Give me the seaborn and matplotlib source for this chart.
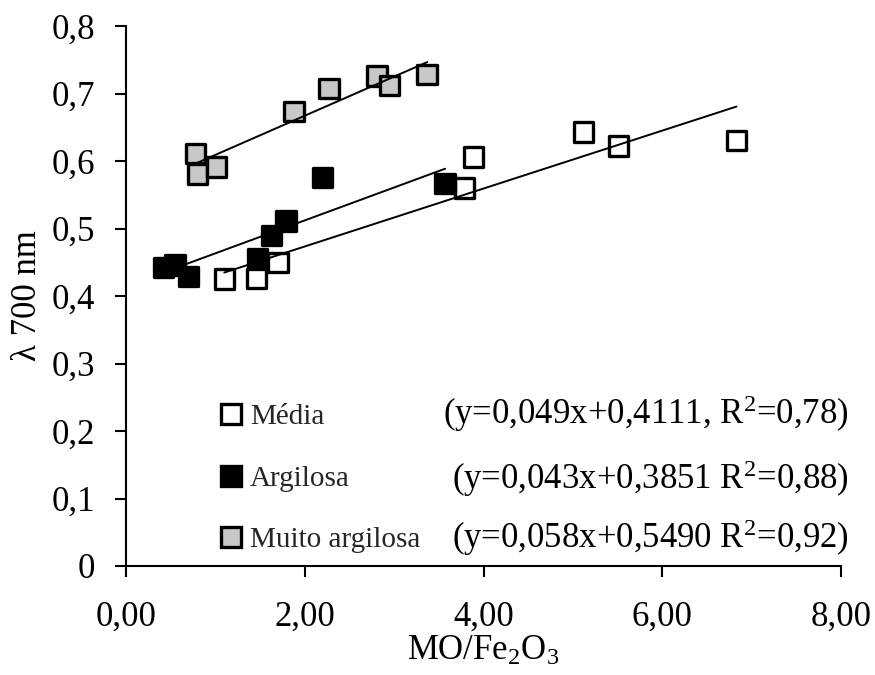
import numpy as np
import pandas as pd
import matplotlib
matplotlib.use("Agg")
import matplotlib.pyplot as plt
from matplotlib.lines import Line2D
import seaborn as sns

# ---- data ----
media_x = [1.10, 1.46, 1.70, 3.79, 3.89, 5.12, 5.51, 6.83]
media_y = [0.425, 0.426, 0.450, 0.560, 0.606, 0.643, 0.622, 0.630]

argilosa_x = [0.42, 0.55, 0.70, 1.47, 1.63, 1.79, 2.20, 3.57]
argilosa_y = [0.442, 0.446, 0.429, 0.456, 0.490, 0.511, 0.576, 0.567]

muito_x = [0.78, 0.80, 1.01, 1.88, 2.27, 2.81, 2.95, 3.37]
muito_y = [0.611, 0.581, 0.591, 0.673, 0.707, 0.726, 0.712, 0.728]

groups = ["Média", "Argilosa", "Muito argilosa"]
equations = [
    "(y=0,049x+0,4111, R$^{2}$=0,78)",
    "(y=0,043x+0,3851 R$^{2}$=0,88)",
    "(y=0,058x+0,5490 R$^{2}$=0,92)",
]
x_ticks = [0, 2, 4, 6, 8]
x_tick_labels = ["0,00", "2,00", "4,00", "6,00", "8,00"]
y_ticks = [0, 0.1, 0.2, 0.3, 0.4, 0.5, 0.6, 0.7, 0.8]
y_tick_labels = ["0", "0,1", "0,2", "0,3", "0,4", "0,5", "0,6", "0,7", "0,8"]

df = pd.DataFrame({
    "x": media_x + argilosa_x + muito_x,
    "y": media_y + argilosa_y + muito_y,
    "grupo": [groups[0]] * len(media_x) + [groups[1]] * len(argilosa_x) + [groups[2]] * len(muito_x),
})

fills = {"Média": "white", "Argilosa": "black", "Muito argilosa": "#c8c8c8"}

sns.set_theme(style="white")
plt.rcParams["font.family"] = ["Liberation Serif", "DejaVu Serif"]
plt.rcParams["mathtext.fontset"] = "custom"
plt.rcParams["mathtext.rm"] = "Liberation Serif"
plt.rcParams["mathtext.it"] = "Liberation Serif"

fig = plt.figure(figsize=(8.75, 6.75), dpi=100)
ax = fig.add_axes([126 / 875, 1 - 566 / 675, 715 / 875, 540 / 675])

sns.scatterplot(data=df, x="x", y="y", hue="grupo", palette=fills, marker="s",
                s=195, edgecolor="black", linewidth=2.4, legend=False, ax=ax, zorder=3)

for g in groups:
    sub = df[df["grupo"] == g]
    sns.regplot(data=sub, x="x", y="y", scatter=False, ci=None, ax=ax,
                line_kws={"color": "black", "lw": 1.4, "zorder": 4})

ax.set_xlim(0, 8)
ax.set_ylim(0, 0.8)
ax.set_xticks(x_ticks)
ax.set_xticklabels(x_tick_labels)
ax.set_yticks(y_ticks)
ax.set_yticklabels(y_tick_labels)
ax.tick_params(axis="both", direction="out", length=8, width=1.5, color="black",
               labelsize=25, labelcolor="black", left=True, bottom=True)
ax.tick_params(axis="y", pad=14)
ax.tick_params(axis="x", pad=17)
for side in ["top", "right"]:
    ax.spines[side].set_visible(False)
for side in ["left", "bottom"]:
    ax.spines[side].set_color("black")
    ax.spines[side].set_linewidth(1.5)

ax.set_xlabel("MO/Fe$_\\mathregular{2}$O$_\\mathregular{3}$", fontsize=25, color="black")
ax.set_ylabel("λ 700 nm", fontsize=25, color="black")
ax.xaxis.set_label_coords(0.5, -0.127)
ax.yaxis.set_label_coords(-0.114, 0.5)

handles = [Line2D([], [], linestyle="none", marker="s", markersize=15,
                  markerfacecolor=fills[g], markeredgecolor="black", markeredgewidth=2.4)
           for g in groups]
leg = ax.legend(handles, groups, loc="upper left", bbox_to_anchor=(0.1287, 0.300),
                frameon=False, fontsize=21, handlelength=0.9, handletextpad=0.2,
                labelspacing=1.2, borderpad=0, borderaxespad=0)

row_y = [0.2815, 0.161, 0.052]
for eq, yy in zip(equations, row_y):
    ax.text(1.011, yy, eq, transform=ax.transAxes, ha="right", va="center",
            fontsize=25, color="black")

fig.savefig("out.png", dpi=100)
